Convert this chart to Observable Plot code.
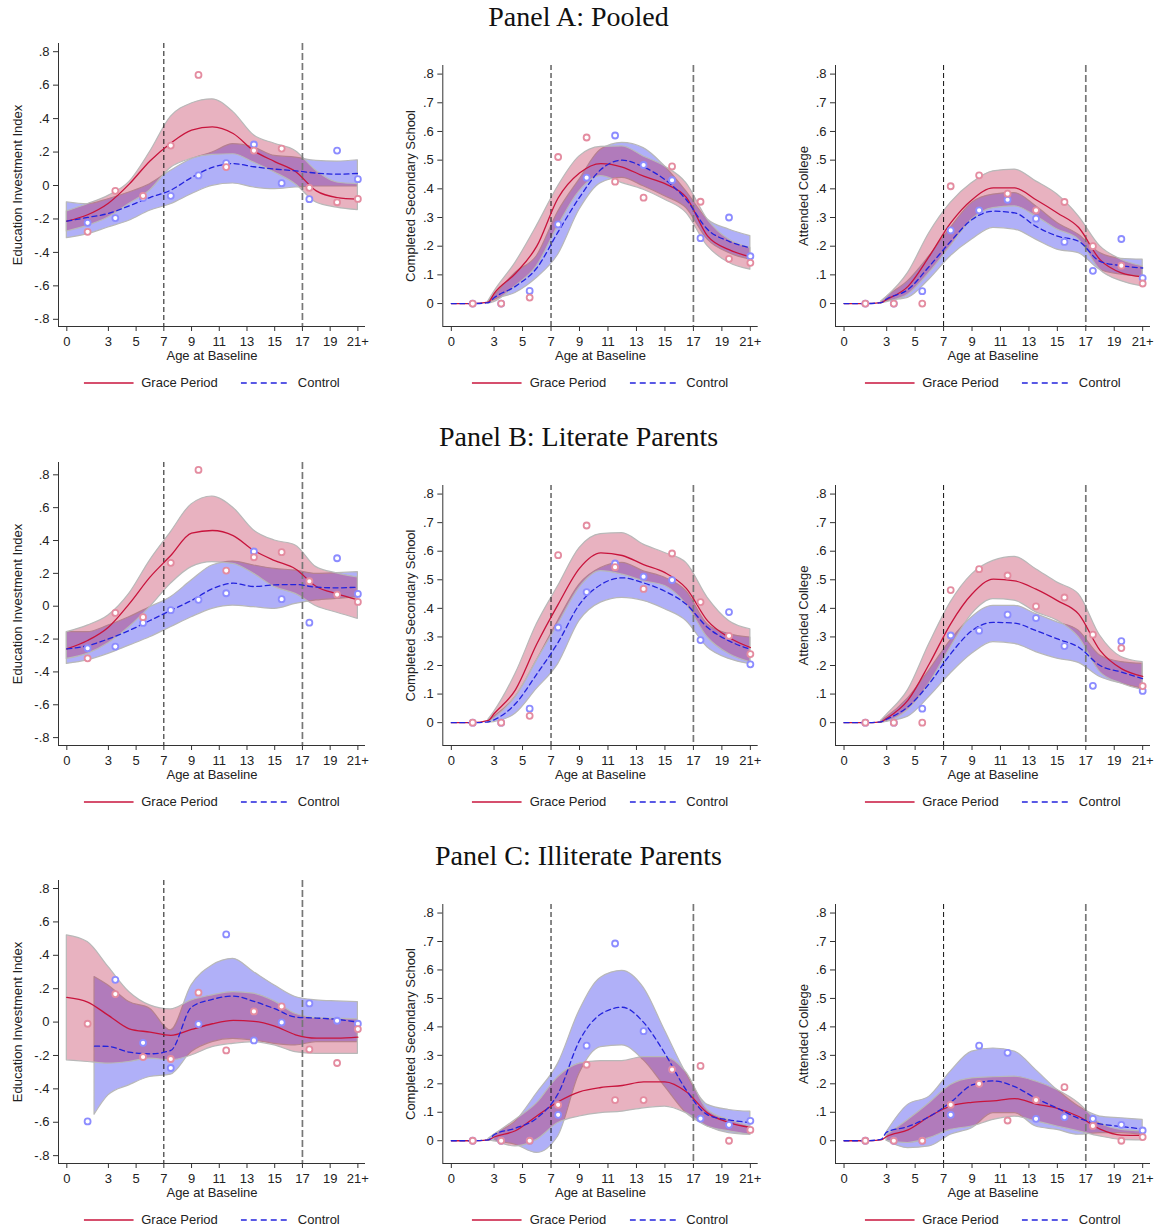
<!DOCTYPE html>
<html><head><meta charset="utf-8">
<script src="https://cdn.jsdelivr.net/npm/d3@7"></script>
<script src="https://cdn.jsdelivr.net/npm/@observablehq/plot@0.6"></script>
<style>
body{margin:0;background:#fff;}
#root{position:relative;width:1157px;height:1230px;font-family:"Liberation Sans",Arial,sans-serif;overflow:hidden;}
.title{position:absolute;left:0;width:1157px;text-align:center;font-family:"Liberation Serif","Times New Roman",serif;font-size:28px;line-height:32px;color:#111;}
.chart{position:absolute;}
.legend{position:absolute;display:flex;align-items:center;font-size:13px;color:#222;white-space:nowrap;transform:translateX(-50%);}
</style></head><body><div id="root"></div>
<script>
// ---------- x positions ----------
const knotsAge = [0,1.5,3,4.5,6,7.5,9,10.5,12,13.5,15,16.5,18,19.5,21];
const knotsAge23 = [0,1.5,2.6,3,4.5,6,7.5,9,10.5,12,13.5,15,16.5,18,19.5,21];
const knotsC1Control = [2,3,4.5,6,7.5,9,10.5,12,13.5,15,16.5,18,19.5,21];
const pointAge = [1.5,3.5,5.5,7.5,9.5,11.5,13.5,15.5,17.5,19.5,21];
const xTicks = [0,3,5,7,9,11,13,15,17,19,21];
const xTickLabels = ["0","3","5","7","9","11","13","15","17","19","21+"];
const yTicksIndex = [-0.8,-0.6,-0.4,-0.2,0,0.2,0.4,0.6,0.8];
const yTicksShare = [0,0.1,0.2,0.3,0.4,0.5,0.6,0.7,0.8];
const rowTitles = ["Panel A: Pooled","Panel B: Literate Parents","Panel C: Illiterate Parents"];
const yTitles = ["Education Investment Index","Completed Secondary School","Attended College"];
const seriesNames = ["Grace Period","Control"];

// ---------- Panel A1 ----------
const A1_graceFit = [-0.213,-0.175,-0.106,0.008,0.147,0.253,0.331,0.351,0.311,0.207,0.143,0.084,-0.032,-0.072,-0.082];
const A1_graceHi  = [-0.155,-0.112,-0.062,0.02,0.2,0.41,0.49,0.515,0.44,0.3,0.25,0.207,0.088,0.018,0.008];
const A1_graceLo  = [-0.275,-0.241,-0.191,-0.11,-0.03,0.105,0.16,0.183,0.187,0.137,0.078,0.008,-0.102,-0.132,-0.147];
const A1_ctrlFit  = [-0.213,-0.191,-0.167,-0.122,-0.072,-0.028,0.048,0.108,0.131,0.112,0.098,0.088,0.074,0.068,0.072];
const A1_ctrlHi   = [-0.10,-0.112,-0.082,-0.042,0.008,0.088,0.157,0.197,0.247,0.227,0.177,0.167,0.147,0.143,0.151];
const A1_ctrlLo   = [-0.315,-0.291,-0.251,-0.211,-0.151,-0.112,-0.052,-0.002,0.012,-0.012,-0.022,-0.012,-0.006,-0.006,-0.006];
const A1_gracePts = [-0.277,-0.032,-0.062,0.239,0.661,0.110,0.209,0.221,-0.014,-0.10,-0.08];
const A1_ctrlPts  = [-0.223,-0.195,-0.075,-0.062,0.06,0.134,0.245,0.014,-0.082,0.209,0.038];

// ---------- Panel A2 ----------
const A2_graceFit = [0,0,0.005,0.035,0.105,0.2,0.368,0.455,0.488,0.476,0.444,0.418,0.37,0.235,0.188,0.163];
const A2_graceHi  = [null,null,0.008,0.04,0.142,0.27,0.409,0.513,0.546,0.548,0.513,0.478,0.42,0.293,0.223,0.194];
const A2_graceLo  = [null,null,0,0.005,0.06,0.13,0.27,0.391,0.444,0.42,0.397,0.362,0.316,0.2,0.142,0.118];
const A2_ctrlFit  = [0,0,0.003,0.02,0.06,0.124,0.25,0.37,0.467,0.5,0.476,0.432,0.362,0.258,0.217,0.194];
const A2_ctrlHi   = [null,null,0.006,0.026,0.107,0.165,0.32,0.432,0.536,0.56,0.542,0.478,0.391,0.293,0.258,0.235];
const A2_ctrlLo   = [null,null,0,0.012,0.037,0.089,0.17,0.327,0.42,0.438,0.409,0.374,0.333,0.223,0.176,0.153];
const A2_gracePts = [0,0,0.021,0.511,0.579,0.425,0.369,0.478,0.355,0.156,0.142];
const A2_ctrlPts  = [0,0,0.044,0.276,0.439,0.586,0.483,0.43,0.228,0.30,0.165];

// ---------- Panel A3 ----------
const A3_graceFit = [0,0,0.003,0.014,0.06,0.165,0.281,0.362,0.403,0.403,0.362,0.316,0.265,0.153,0.107,0.093];
const A3_graceHi  = [null,null,0.006,0.023,0.107,0.246,0.351,0.42,0.461,0.467,0.426,0.38,0.304,0.2,0.153,0.13];
const A3_graceLo  = [null,null,0,0.005,0.031,0.107,0.2,0.293,0.333,0.339,0.304,0.258,0.223,0.118,0.078,0.06];
const A3_ctrlFit  = [0,0,0.003,0.016,0.049,0.13,0.217,0.293,0.322,0.316,0.269,0.235,0.217,0.147,0.132,0.124];
const A3_ctrlHi   = [null,null,0.006,0.023,0.078,0.165,0.264,0.351,0.38,0.385,0.339,0.281,0.24,0.176,0.156,0.153];
const A3_ctrlLo   = [null,null,0,0.008,0.02,0.084,0.165,0.223,0.264,0.258,0.223,0.188,0.176,0.118,0.101,0.095];
const A3_gracePts = [0,0,0,0.409,0.447,0.383,0.325,0.354,0.2,0.132,0.07];
const A3_ctrlPts  = [0,0,0.043,0.255,0.325,0.362,0.296,0.215,0.114,0.225,0.089];

// ---------- Panel B1 ----------
const B1_graceFit = [-0.26,-0.209,-0.128,0.014,0.177,0.309,0.445,0.461,0.43,0.339,0.278,0.227,0.12,0.075,0.039];
const B1_graceHi  = [-0.158,-0.118,-0.057,0.075,0.278,0.45,0.62,0.668,0.6,0.461,0.4,0.37,0.238,0.2,0.175];
const B1_graceLo  = [-0.321,-0.29,-0.225,-0.128,-0.006,0.136,0.238,0.268,0.258,0.197,0.116,0.075,0.0,-0.04,-0.077];
const B1_ctrlFit  = [-0.26,-0.24,-0.199,-0.148,-0.087,-0.026,0.035,0.106,0.14,0.12,0.13,0.132,0.116,0.112,0.116];
const B1_ctrlHi   = [-0.158,-0.158,-0.118,-0.067,-0.006,0.055,0.156,0.248,0.272,0.248,0.227,0.217,0.197,0.201,0.207];
const B1_ctrlLo   = [-0.351,-0.33,-0.29,-0.24,-0.189,-0.128,-0.067,-0.016,0.004,-0.006,-0.016,0.014,0.035,0.045,0.055];
const B1_gracePts = [-0.317,-0.041,-0.067,0.264,0.83,0.217,0.298,0.329,0.152,0.071,0.026];
const B1_ctrlPts  = [-0.256,-0.246,-0.102,-0.024,0.039,0.079,0.333,0.043,-0.1,0.292,0.075];

// ---------- Panel B2 ----------
const B2_graceFit = [0,0,0.008,0.031,0.115,0.275,0.414,0.54,0.594,0.585,0.553,0.525,0.47,0.356,0.298,0.263];
const B2_graceHi  = [null,null,0.01,0.037,0.17,0.344,0.478,0.611,0.66,0.663,0.623,0.594,0.559,0.437,0.356,0.327];
const B2_graceLo  = [null,null,0,0.014,0.089,0.217,0.344,0.472,0.53,0.518,0.495,0.478,0.414,0.298,0.24,0.211];
const B2_ctrlFit  = [0,0,0.003,0.01,0.066,0.17,0.281,0.414,0.483,0.507,0.489,0.46,0.414,0.333,0.286,0.257];
const B2_ctrlHi   = [null,null,0.006,0.02,0.089,0.217,0.356,0.483,0.541,0.559,0.53,0.507,0.46,0.344,0.31,0.298];
const B2_ctrlLo   = [null,null,0,0.002,0.031,0.118,0.205,0.356,0.42,0.437,0.426,0.397,0.356,0.263,0.223,0.205];
const B2_gracePts = [0,0,0.024,0.586,0.69,0.544,0.468,0.592,0.422,0.304,0.24];
const B2_ctrlPts  = [0,0,0.049,0.333,0.457,0.557,0.511,0.499,0.289,0.387,0.204];

// ---------- Panel B3 ----------
const B3_graceFit = [0,0,0.003,0.015,0.079,0.206,0.346,0.45,0.502,0.496,0.467,0.427,0.38,0.253,0.189,0.162];
const B3_graceHi  = [null,null,0.006,0.027,0.114,0.276,0.421,0.519,0.566,0.58,0.537,0.49,0.45,0.305,0.23,0.212];
const B3_graceLo  = [null,null,0,0.003,0.044,0.137,0.264,0.38,0.432,0.427,0.386,0.357,0.299,0.177,0.137,0.114];
const B3_ctrlFit  = [0,0,0.003,0.012,0.056,0.137,0.241,0.322,0.351,0.348,0.322,0.293,0.264,0.2,0.177,0.154];
const B3_ctrlHi   = [null,null,0.006,0.019,0.085,0.183,0.288,0.369,0.409,0.409,0.38,0.351,0.322,0.235,0.212,0.206];
const B3_ctrlLo   = [null,null,0,0.003,0.021,0.09,0.172,0.241,0.282,0.276,0.247,0.224,0.209,0.16,0.137,0.119];
const B3_gracePts = [0,0,0,0.464,0.537,0.515,0.407,0.438,0.308,0.261,0.128];
const B3_ctrlPts  = [0,0,0.049,0.305,0.322,0.378,0.366,0.268,0.129,0.285,0.111];

// ---------- Panel C1 ----------
const C1_graceFit = [0.148,0.12,0.04,-0.04,-0.06,-0.08,-0.044,-0.01,0.01,0.004,-0.024,-0.076,-0.096,-0.096,-0.09];
const C1_graceHi  = [0.519,0.479,0.33,0.18,0.1,0.076,0.13,0.16,0.18,0.17,0.124,0.05,0.024,0.02,0.016];
const C1_graceLo  = [-0.229,-0.239,-0.249,-0.239,-0.219,-0.229,-0.2,-0.15,-0.13,-0.12,-0.14,-0.18,-0.19,-0.19,-0.19];
const C1_ctrlFit  = [-0.144,-0.146,-0.18,-0.19,-0.17,0.09,0.136,0.156,0.124,0.08,0.03,0.024,0.016,0];
const C1_ctrlHi   = [0.27,0.219,0.12,0.08,-0.05,0.22,0.339,0.379,0.299,0.219,0.15,0.13,0.124,0.12];
const C1_ctrlLo   = [-0.555,-0.439,-0.379,-0.329,-0.315,-0.18,-0.12,-0.1,-0.11,-0.13,-0.14,-0.12,-0.12,-0.12];
const C1_gracePts = [-0.01,0.168,-0.209,-0.221,0.176,-0.17,0.064,0.094,-0.164,-0.245,-0.042];
const C1_ctrlPts  = [-0.595,0.253,-0.124,-0.275,-0.012,0.525,-0.11,-0.002,0.112,0.008,-0.01];

// ---------- Panel C2 ----------
const C2_graceFit = [0,0,0.003,0.013,0.035,0.087,0.137,0.172,0.187,0.194,0.207,0.207,0.172,0.097,0.064,0.047];
const C2_graceHi  = [null,null,null,0.02,0.073,0.131,0.224,0.271,0.28,0.28,0.294,0.294,0.24,0.108,0.073,0.05];
const C2_graceLo  = [null,null,null,0,-0.02,0.003,0.062,0.085,0.097,0.102,0.114,0.12,0.097,0.05,0.033,0.021];
const C2_ctrlFit  = [0,0,0.003,0.021,0.044,0.079,0.166,0.352,0.445,0.469,0.416,0.306,0.178,0.091,0.073,0.064];
const C2_ctrlHi   = [null,null,0.006,0.021,0.067,0.166,0.271,0.457,0.573,0.597,0.538,0.387,0.236,0.126,0.108,0.102];
const C2_ctrlLo   = [null,null,0,-0.002,-0.014,-0.043,0.015,0.236,0.329,0.335,0.283,0.19,0.097,0.05,0.027,0.021];
const C2_gracePts = [0,0,0,0.126,0.267,0.143,0.143,0.25,0.263,0,0.038];
const C2_ctrlPts  = [0,0,0,0.091,0.334,0.693,0.385,0.25,0.078,0.056,0.07];

// ---------- Panel C3 ----------
const C3_graceFit = [0,0,0.003,0.015,0.038,0.085,0.122,0.135,0.14,0.148,0.129,0.114,0.085,0.041,0.02,0.019];
const C3_graceHi  = [null,null,null,0.02,0.073,0.132,0.196,0.219,0.223,0.225,0.208,0.178,0.132,0.062,0.038,0.033];
const C3_graceLo  = [null,null,null,0,-0.008,0.009,0.038,0.05,0.073,0.085,0.068,0.05,0.033,0.015,0.003,0.001];
const C3_ctrlFit  = [0,0,0.005,0.03,0.05,0.085,0.135,0.196,0.21,0.19,0.149,0.114,0.079,0.059,0.05,0.041];
const C3_ctrlHi   = [null,null,null,0.03,0.126,0.155,0.243,0.313,0.324,0.313,0.248,0.178,0.12,0.085,0.079,0.073];
const C3_ctrlLo   = [null,null,null,0,-0.026,-0.02,0.021,0.044,0.097,0.097,0.05,0.038,0.021,0.027,0.027,0.021];
const C3_gracePts = [0,0,0,0.126,0.2,0.071,0.143,0.188,0.052,0,0.013];
const C3_ctrlPts  = [0,0,0,0.091,0.334,0.309,0.077,0.083,0.077,0.056,0.036];

// ---------- layout & styling ----------
const COL_CTRL_BAND = "#b0b0f8";              // opaque control band
const COL_GRACE_BAND = "rgb(178,0,45)";       // translucent grace band drawn on top
const GRACE_BAND_OPACITY = 0.3;
const COL_GRACE_LINE = "#c8143c", COL_CTRL_LINE = "#2323dd";
const COL_GRACE_DOT = "#e48ca0", COL_CTRL_DOT = "#8c8cff";
const BAND_EDGE = "#b8b8b8";
const FONT = "Liberation Sans, Arial, Helvetica, sans-serif";

const rows = [
  {top: 30, titleTop: 1, m1: 13, m23: 35, dom1: [-0.843, 0.849]},
  {top: 449, titleTop: 421, m1: 13, m23: 36, dom1: [-0.848, 0.875]},
  {top: 867, titleTop: 840, m1: 13, m23: 37, dom1: [-0.847, 0.848]}
];
const cols = [
  {left: 0, width: 380, ml: 58, mr: 15, yTitleDx: -41},
  {left: 385, width: 385, ml: 57.3, mr: 12.3, yTitleDx: -32},
  {left: 775, width: 382, ml: 60, mr: 7, yTitleDx: -32}
];
const panelData = [
  [
    {gF:A1_graceFit,gH:A1_graceHi,gL:A1_graceLo,cF:A1_ctrlFit,cH:A1_ctrlHi,cL:A1_ctrlLo,gP:A1_gracePts,cP:A1_ctrlPts},
    {gF:A2_graceFit,gH:A2_graceHi,gL:A2_graceLo,cF:A2_ctrlFit,cH:A2_ctrlHi,cL:A2_ctrlLo,gP:A2_gracePts,cP:A2_ctrlPts},
    {gF:A3_graceFit,gH:A3_graceHi,gL:A3_graceLo,cF:A3_ctrlFit,cH:A3_ctrlHi,cL:A3_ctrlLo,gP:A3_gracePts,cP:A3_ctrlPts}
  ],
  [
    {gF:B1_graceFit,gH:B1_graceHi,gL:B1_graceLo,cF:B1_ctrlFit,cH:B1_ctrlHi,cL:B1_ctrlLo,gP:B1_gracePts,cP:B1_ctrlPts},
    {gF:B2_graceFit,gH:B2_graceHi,gL:B2_graceLo,cF:B2_ctrlFit,cH:B2_ctrlHi,cL:B2_ctrlLo,gP:B2_gracePts,cP:B2_ctrlPts},
    {gF:B3_graceFit,gH:B3_graceHi,gL:B3_graceLo,cF:B3_ctrlFit,cH:B3_ctrlHi,cL:B3_ctrlLo,gP:B3_gracePts,cP:B3_ctrlPts}
  ],
  [
    {gF:C1_graceFit,gH:C1_graceHi,gL:C1_graceLo,cF:C1_ctrlFit,cH:C1_ctrlHi,cL:C1_ctrlLo,gP:C1_gracePts,cP:C1_ctrlPts,cK:knotsC1Control},
    {gF:C2_graceFit,gH:C2_graceHi,gL:C2_graceLo,cF:C2_ctrlFit,cH:C2_ctrlHi,cL:C2_ctrlLo,gP:C2_gracePts,cP:C2_ctrlPts},
    {gF:C3_graceFit,gH:C3_graceHi,gL:C3_graceLo,cF:C3_ctrlFit,cH:C3_ctrlHi,cL:C3_ctrlLo,gP:C3_gracePts,cP:C3_ctrlPts}
  ]
];

const xDomain = [-0.6, 21.55];
const fmtY = d => {
  if (Math.abs(d) < 1e-9) return "0";
  return (d < 0 ? "-" : "") + Math.abs(d).toFixed(1).replace(/^0/, "");
};
const fmtX = d => xTickLabels[xTicks.indexOf(d)];

const bandRows = (ks, lo, hi) => ks.map((x, i) => ({x, lo: lo[i], hi: hi[i]})).filter(d => d.lo != null && d.hi != null);
const lineRows = (ks, v) => ks.map((x, i) => ({x, y: v[i]})).filter(d => d.y != null);
const ptRows = v => pointAge.map((x, i) => ({x, y: v[i]}));

const root = document.getElementById("root");

rows.forEach((row, ri) => {
  const t = document.createElement("div");
  t.className = "title";
  t.style.top = row.titleTop + "px";
  t.textContent = rowTitles[ri];
  root.appendChild(t);

  cols.forEach((col, ci) => {
    const d = panelData[ri][ci];
    const ks = ci === 0 ? knotsAge : knotsAge23;
    const cks = d.cK || ks;
    const yDomain = ci === 0 ? row.dom1 : [-0.08, 0.83];
    const yTicks = ci === 0 ? yTicksIndex : yTicksShare;
    const mt = ci === 0 ? row.m1 : row.m23;

    const svg = Plot.plot({
      width: col.width, height: 340,
      marginTop: mt, marginBottom: 44, marginLeft: col.ml, marginRight: col.mr,
      x: {domain: xDomain},
      y: {domain: yDomain},
      style: {fontFamily: FONT, fontSize: "13px", color: "#222", background: "white", overflow: "visible"},
      marks: [
        Plot.areaY(bandRows(cks, d.cL, d.cH), {x: "x", y1: "lo", y2: "hi", fill: COL_CTRL_BAND, stroke: BAND_EDGE, strokeWidth: 1.2, curve: "monotone-x"}),
        Plot.areaY(bandRows(ks, d.gL, d.gH), {x: "x", y1: "lo", y2: "hi", fill: COL_GRACE_BAND, fillOpacity: GRACE_BAND_OPACITY, stroke: BAND_EDGE, strokeWidth: 1.2, curve: "monotone-x"}),
        Plot.ruleX([7], {stroke: "#111", strokeWidth: 1, strokeDasharray: "5,3"}),
        Plot.ruleX([17], {stroke: "#777", strokeWidth: 1.7, strokeDasharray: "7,3"}),
        Plot.line(lineRows(ks, d.gF), {x: "x", y: "y", stroke: COL_GRACE_LINE, strokeWidth: 1.3, curve: "monotone-x"}),
        Plot.line(lineRows(cks, d.cF), {x: "x", y: "y", stroke: COL_CTRL_LINE, strokeWidth: 1.3, strokeDasharray: "5,3.5", curve: "monotone-x"}),
        Plot.dot(ptRows(d.cP), {x: "x", y: "y", r: 3, stroke: COL_CTRL_DOT, strokeWidth: 1.8, fill: "white"}),
        Plot.dot(ptRows(d.gP), {x: "x", y: "y", r: 3, stroke: COL_GRACE_DOT, strokeWidth: 1.8, fill: "white"}),
        Plot.ruleX([xDomain[0]], {stroke: "#333", strokeWidth: 1}),
        Plot.ruleY([yDomain[0]], {stroke: "#333", strokeWidth: 1}),
        Plot.axisX({ticks: xTicks, tickFormat: fmtX, tickSize: 5, tickPadding: 5, label: null, stroke: "#333"}),
        Plot.axisY({ticks: yTicks, tickFormat: fmtY, tickSize: 5, tickPadding: 4, label: null, stroke: "#333"}),
        Plot.text([yTitles[ci]], {frameAnchor: "left", dx: col.yTitleDx, rotate: -90, textAnchor: "middle", lineAnchor: "middle", fontSize: 13, fill: "#222", fontFamily: FONT}),
        Plot.text(["Age at Baseline"], {frameAnchor: "bottom", dy: 29, textAnchor: "middle", lineAnchor: "middle", fontSize: 13, fill: "#222", fontFamily: FONT})
      ]
    });
    const wrap = document.createElement("div");
    wrap.className = "chart";
    wrap.style.left = col.left + "px";
    wrap.style.top = row.top + "px";
    wrap.appendChild(svg);
    root.appendChild(wrap);

    // legend
    const center = col.left + col.ml + (col.width - col.ml - col.mr) / 2;
    const lg = document.createElement("div");
    lg.className = "legend";
    lg.style.left = center + "px";
    lg.style.top = (row.top + 353 - 8) + "px";
    lg.innerHTML =
      `<svg width="50" height="16"><line x1="0" x2="50" y1="8" y2="8" stroke="${COL_GRACE_LINE}" stroke-width="1.3"/></svg>` +
      `<span style="margin-left:8px;line-height:16px">${seriesNames[0]}</span>` +
      `<svg width="50" height="16" style="margin-left:23px"><line x1="0" x2="50" y1="8" y2="8" stroke="${COL_CTRL_LINE}" stroke-width="1.3" stroke-dasharray="6,4"/></svg>` +
      `<span style="margin-left:7px;line-height:16px">${seriesNames[1]}</span>`;
    root.appendChild(lg);
  });
});
</script></body></html>
